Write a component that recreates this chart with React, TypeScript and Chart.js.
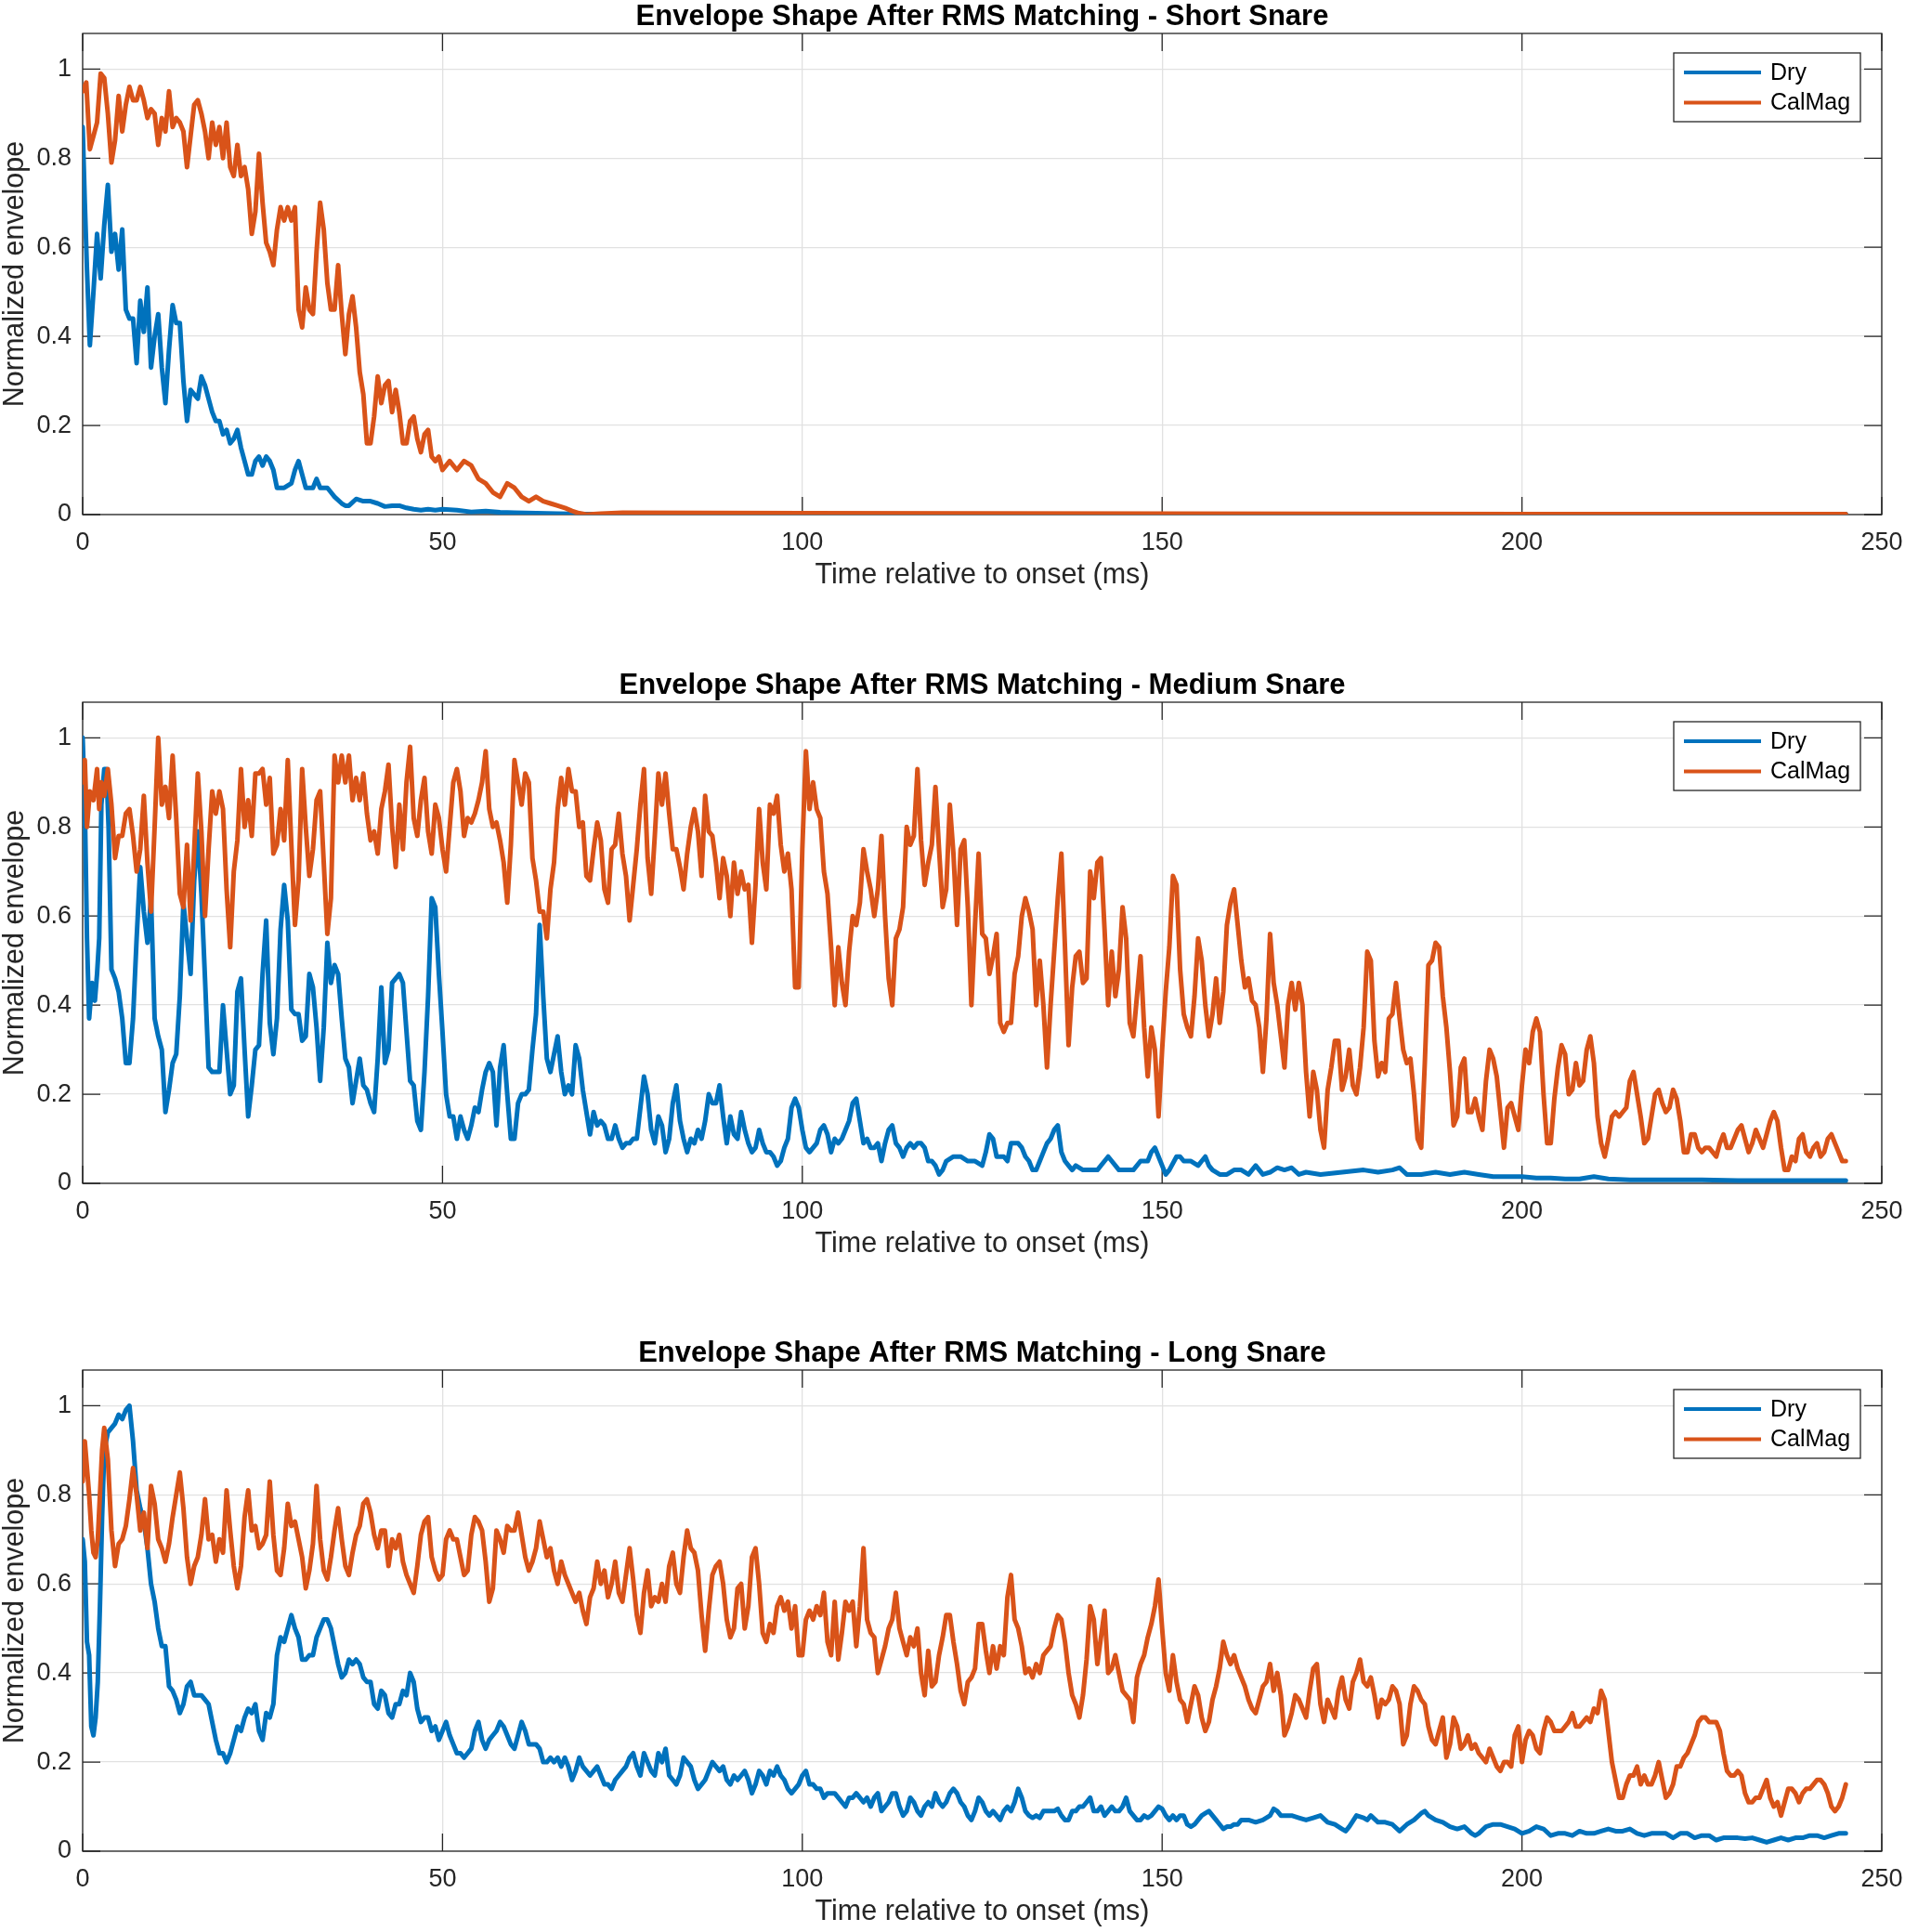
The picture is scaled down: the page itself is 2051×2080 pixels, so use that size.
import React, { useEffect, useRef } from 'react';
import { Chart, registerables } from 'chart.js';

Chart.register(...registerables);

// ---------------- data ----------------
const SERIES_LABELS = ['Dry', 'CalMag'];
const SERIES_COLORS = ['#0072BD', '#D95319'];
const X_TICKS = [0, 50, 100, 150, 200, 250];
const Y_TICKS = [0, 0.2, 0.4, 0.6, 0.8, 1];
const X_LABEL = 'Time relative to onset (ms)';
const Y_LABEL = 'Normalized envelope';
const TITLES = [
  'Envelope Shape After RMS Matching - Short Snare',
  'Envelope Shape After RMS Matching - Medium Snare',
  'Envelope Shape After RMS Matching - Long Snare',
];

type P = [number, number][];

const shortDry: P = [[0,0.87],[0.3,0.7],[0.6,0.55],[1,0.38],[1.5,0.5],[2,0.63],[2.5,0.53],[3,0.65],[3.5,0.74],[4,0.59],[4.5,0.63],[5,0.55],[5.5,0.64],[6,0.46],[6.5,0.44],[7,0.44],[7.5,0.34],[8,0.48],[8.5,0.41],[9,0.51],[9.5,0.33],[10,0.4],[10.5,0.45],[11,0.33],[11.5,0.25],[12,0.37],[12.5,0.47],[13,0.43],[13.5,0.43],[14,0.3],[14.5,0.21],[15,0.28],[15.5,0.27],[16,0.26],[16.5,0.31],[17,0.29],[17.5,0.26],[18,0.23],[18.5,0.21],[19,0.21],[19.5,0.18],[20,0.19],[20.5,0.16],[21,0.17],[21.5,0.19],[22,0.15],[22.5,0.12],[23,0.09],[23.5,0.09],[24,0.12],[24.5,0.13],[25,0.11],[25.5,0.13],[26,0.12],[26.5,0.1],[27,0.06],[28,0.06],[29,0.07],[29.5,0.1],[30,0.12],[30.5,0.09],[31,0.06],[32,0.06],[32.5,0.08],[33,0.06],[34,0.06],[34.5,0.05],[35,0.04],[36,0.025],[36.5,0.02],[37,0.02],[38,0.035],[39,0.03],[40,0.03],[41,0.025],[42,0.018],[43,0.02],[44,0.02],[45,0.015],[46,0.012],[47,0.01],[48,0.012],[49,0.01],[50,0.012],[52,0.01],[54,0.006],[56,0.008],[58,0.005],[60,0.004],[63,0.003],[66,0.002],[70,0.001],[100,0.001],[150,0.001],[200,0.001],[245,0.001]];

const shortCal: P = [[0,0.95],[0.5,0.97],[1,0.82],[1.5,0.85],[2,0.88],[2.5,0.99],[3,0.98],[3.5,0.9],[4,0.79],[4.5,0.84],[5,0.94],[5.5,0.86],[6,0.92],[6.5,0.96],[7,0.93],[7.5,0.93],[8,0.96],[8.5,0.93],[9,0.89],[9.5,0.91],[10,0.9],[10.5,0.83],[11,0.89],[11.5,0.86],[12,0.95],[12.5,0.87],[13,0.89],[13.5,0.88],[14,0.86],[14.5,0.78],[15,0.85],[15.5,0.92],[16,0.93],[16.5,0.9],[17,0.86],[17.5,0.8],[18,0.88],[18.5,0.83],[19,0.87],[19.5,0.8],[20,0.88],[20.5,0.78],[21,0.76],[21.5,0.83],[22,0.76],[22.5,0.78],[23,0.73],[23.5,0.63],[24,0.68],[24.5,0.81],[25,0.7],[25.5,0.61],[26,0.59],[26.5,0.56],[27,0.64],[27.5,0.69],[28,0.66],[28.5,0.69],[29,0.66],[29.5,0.69],[30,0.46],[30.5,0.42],[31,0.51],[31.5,0.46],[32,0.45],[32.5,0.59],[33,0.7],[33.5,0.64],[34,0.52],[34.5,0.46],[35,0.46],[35.5,0.56],[36,0.45],[36.5,0.36],[37,0.45],[37.5,0.49],[38,0.42],[38.5,0.32],[39,0.27],[39.5,0.16],[40,0.16],[40.5,0.22],[41,0.31],[41.5,0.25],[42,0.29],[42.5,0.3],[43,0.23],[43.5,0.28],[44,0.23],[44.5,0.16],[45,0.16],[45.5,0.21],[46,0.22],[46.5,0.17],[47,0.14],[47.5,0.18],[48,0.19],[48.5,0.13],[49,0.12],[49.5,0.13],[50,0.1],[51,0.12],[52,0.1],[53,0.12],[54,0.11],[55,0.08],[56,0.07],[57,0.05],[58,0.04],[59,0.07],[60,0.06],[61,0.04],[62,0.03],[63,0.04],[64,0.03],[65,0.025],[66,0.02],[67,0.015],[68,0.008],[69,0.003],[70,0],[72,0.002],[75,0.004],[100,0.003],[150,0.002],[200,0.001],[245,0.001]];

const mediumDry: P = [[0,1],[0.3,0.85],[0.6,0.55],[0.9,0.37],[1.3,0.45],[1.7,0.41],[2,0.47],[2.3,0.55],[2.6,0.85],[3,0.93],[3.3,0.93],[3.6,0.8],[4,0.48],[4.5,0.46],[5,0.43],[5.5,0.37],[6,0.27],[6.5,0.27],[7,0.37],[7.5,0.55],[8,0.71],[8.5,0.61],[9,0.54],[9.5,0.64],[10,0.37],[10.5,0.33],[11,0.3],[11.5,0.16],[12,0.21],[12.5,0.27],[13,0.29],[13.5,0.42],[14,0.63],[14.5,0.55],[15,0.47],[15.5,0.68],[16,0.79],[16.5,0.65],[17,0.46],[17.5,0.26],[18,0.25],[18.5,0.25],[19,0.25],[19.5,0.4],[20,0.3],[20.5,0.2],[21,0.22],[21.5,0.43],[22,0.46],[22.5,0.3],[23,0.15],[23.5,0.22],[24,0.3],[24.5,0.31],[25,0.47],[25.5,0.59],[26,0.36],[26.5,0.29],[27,0.37],[27.5,0.57],[28,0.67],[28.5,0.59],[29,0.39],[29.5,0.38],[30,0.38],[30.5,0.32],[31,0.33],[31.5,0.47],[32,0.44],[32.5,0.35],[33,0.23],[33.5,0.35],[34,0.54],[34.5,0.45],[35,0.49],[35.5,0.47],[36,0.37],[36.5,0.28],[37,0.26],[37.5,0.18],[38,0.23],[38.5,0.28],[39,0.22],[39.5,0.21],[40,0.18],[40.5,0.16],[41,0.28],[41.5,0.44],[42,0.27],[42.5,0.3],[43,0.45],[43.5,0.46],[44,0.47],[44.5,0.45],[45,0.34],[45.5,0.23],[46,0.22],[46.5,0.14],[47,0.12],[47.5,0.25],[48,0.42],[48.5,0.64],[49,0.62],[49.5,0.47],[50,0.34],[50.5,0.2],[51,0.15],[51.5,0.15],[52,0.1],[52.5,0.15],[53,0.12],[53.5,0.1],[54,0.13],[54.5,0.17],[55,0.16],[55.5,0.21],[56,0.25],[56.5,0.27],[57,0.25],[57.5,0.13],[58,0.26],[58.5,0.31],[59,0.2],[59.5,0.1],[60,0.1],[60.5,0.18],[61,0.2],[61.5,0.2],[62,0.21],[62.5,0.3],[63,0.38],[63.5,0.58],[64,0.42],[64.5,0.28],[65,0.25],[65.5,0.29],[66,0.33],[66.5,0.25],[67,0.2],[67.5,0.22],[68,0.2],[68.5,0.31],[69,0.28],[69.5,0.21],[70,0.16],[70.5,0.11],[71,0.16],[71.5,0.13],[72,0.14],[72.5,0.13],[73,0.1],[73.5,0.1],[74,0.13],[74.5,0.1],[75,0.08],[75.5,0.09],[76,0.09],[76.5,0.1],[77,0.1],[77.5,0.17],[78,0.24],[78.5,0.2],[79,0.12],[79.5,0.09],[80,0.15],[80.5,0.13],[81,0.07],[81.5,0.1],[82,0.18],[82.5,0.22],[83,0.14],[83.5,0.1],[84,0.07],[84.5,0.1],[85,0.09],[85.5,0.12],[86,0.1],[86.5,0.14],[87,0.2],[87.5,0.18],[88,0.18],[88.5,0.22],[89,0.15],[89.5,0.09],[90,0.15],[90.5,0.11],[91,0.1],[91.5,0.16],[92,0.12],[92.5,0.09],[93,0.07],[93.5,0.08],[94,0.12],[94.5,0.09],[95,0.07],[95.5,0.07],[96,0.06],[96.5,0.04],[97,0.05],[97.5,0.08],[98,0.1],[98.5,0.17],[99,0.19],[99.5,0.17],[100,0.12],[100.5,0.08],[101,0.07],[101.5,0.08],[102,0.09],[102.5,0.12],[103,0.13],[103.5,0.11],[104,0.07],[104.5,0.1],[105,0.09],[105.5,0.1],[106,0.12],[106.5,0.14],[107,0.18],[107.5,0.19],[108,0.14],[108.5,0.09],[109,0.1],[109.5,0.08],[110,0.08],[110.5,0.09],[111,0.05],[111.5,0.09],[112,0.12],[112.5,0.13],[113,0.09],[113.5,0.08],[114,0.06],[114.5,0.08],[115,0.09],[115.5,0.08],[116,0.09],[116.5,0.09],[117,0.08],[117.5,0.05],[118,0.05],[118.5,0.04],[119,0.02],[119.5,0.03],[120,0.05],[121,0.06],[122,0.06],[123,0.05],[124,0.05],[125,0.04],[125.5,0.07],[126,0.11],[126.5,0.1],[127,0.06],[128,0.06],[128.5,0.05],[129,0.09],[129.5,0.09],[130,0.09],[130.5,0.08],[131,0.06],[131.5,0.05],[132,0.03],[132.5,0.03],[133,0.05],[133.5,0.07],[134,0.09],[134.5,0.1],[135,0.12],[135.5,0.13],[136,0.07],[136.5,0.05],[137,0.04],[137.5,0.03],[138,0.04],[139,0.03],[140,0.03],[141,0.03],[142,0.05],[142.5,0.06],[143,0.05],[144,0.03],[145,0.03],[146,0.03],[147,0.05],[148,0.05],[148.5,0.07],[149,0.08],[149.5,0.06],[150,0.04],[150.5,0.02],[151,0.03],[152,0.06],[152.5,0.06],[153,0.05],[154,0.05],[155,0.04],[155.5,0.05],[156,0.06],[156.5,0.04],[157,0.03],[158,0.02],[159,0.02],[160,0.03],[161,0.03],[162,0.02],[163,0.04],[164,0.02],[165,0.025],[166,0.035],[167,0.03],[168,0.035],[169,0.02],[170,0.025],[172,0.02],[175,0.025],[178,0.03],[180,0.025],[182,0.03],[183,0.035],[184,0.02],[186,0.02],[188,0.025],[190,0.02],[192,0.025],[194,0.02],[196,0.015],[198,0.015],[200,0.015],[202,0.012],[204,0.012],[206,0.01],[208,0.01],[210,0.015],[212,0.01],[215,0.008],[220,0.008],[225,0.008],[230,0.006],[235,0.006],[240,0.006],[245,0.006]];

const mediumCal: P = [[0,0.9],[0.3,0.95],[0.6,0.8],[1,0.88],[1.5,0.86],[2,0.93],[2.3,0.84],[2.6,0.9],[3,0.87],[3.5,0.93],[4,0.85],[4.5,0.73],[5,0.78],[5.5,0.78],[6,0.83],[6.5,0.84],[7,0.78],[7.5,0.7],[8,0.75],[8.5,0.87],[9,0.72],[9.5,0.61],[10,0.8],[10.5,1],[11,0.85],[11.5,0.89],[12,0.82],[12.5,0.96],[13,0.82],[13.5,0.65],[14,0.62],[14.5,0.76],[15,0.59],[15.5,0.75],[16,0.92],[16.5,0.79],[17,0.6],[17.5,0.75],[18,0.88],[18.5,0.83],[19,0.88],[19.5,0.84],[20,0.66],[20.5,0.53],[21,0.7],[21.5,0.77],[22,0.93],[22.5,0.8],[23,0.86],[23.5,0.78],[24,0.92],[24.5,0.92],[25,0.93],[25.5,0.85],[26,0.91],[26.5,0.74],[27,0.76],[27.5,0.84],[28,0.77],[28.5,0.95],[29,0.76],[29.5,0.58],[30,0.68],[30.5,0.93],[31,0.8],[31.5,0.69],[32,0.75],[32.5,0.86],[33,0.88],[33.5,0.72],[34,0.56],[34.5,0.64],[35,0.96],[35.5,0.9],[36,0.96],[36.5,0.9],[37,0.96],[37.5,0.86],[38,0.91],[38.5,0.86],[39,0.92],[39.5,0.83],[40,0.77],[40.5,0.79],[41,0.74],[41.5,0.84],[42,0.88],[42.5,0.94],[43,0.8],[43.5,0.71],[44,0.85],[44.5,0.75],[45,0.9],[45.5,0.98],[46,0.82],[46.5,0.78],[47,0.86],[47.5,0.91],[48,0.79],[48.5,0.74],[49,0.85],[49.5,0.82],[50,0.75],[50.5,0.7],[51,0.8],[51.5,0.9],[52,0.93],[52.5,0.88],[53,0.78],[53.5,0.82],[54,0.81],[54.5,0.83],[55,0.86],[55.5,0.9],[56,0.97],[56.5,0.84],[57,0.8],[57.5,0.81],[58,0.77],[58.5,0.72],[59,0.63],[59.5,0.76],[60,0.95],[60.5,0.9],[61,0.85],[61.5,0.92],[62,0.9],[62.5,0.73],[63,0.68],[63.5,0.61],[64,0.61],[64.5,0.55],[65,0.66],[65.5,0.72],[66,0.84],[66.5,0.91],[67,0.85],[67.5,0.93],[68,0.88],[68.5,0.88],[69,0.8],[69.5,0.81],[70,0.69],[70.5,0.68],[71,0.75],[71.5,0.81],[72,0.77],[72.5,0.66],[73,0.63],[73.5,0.75],[74,0.76],[74.5,0.83],[75,0.74],[75.5,0.69],[76,0.59],[76.5,0.67],[77,0.75],[77.5,0.85],[78,0.93],[78.5,0.73],[79,0.65],[79.5,0.78],[80,0.92],[80.5,0.85],[81,0.92],[81.5,0.83],[82,0.75],[82.5,0.75],[83,0.71],[83.5,0.66],[84,0.74],[84.5,0.8],[85,0.84],[85.5,0.79],[86,0.69],[86.5,0.87],[87,0.79],[87.5,0.78],[88,0.72],[88.5,0.64],[89,0.73],[89.5,0.69],[90,0.6],[90.5,0.72],[91,0.65],[91.5,0.7],[92,0.66],[92.5,0.67],[93,0.54],[93.5,0.67],[94,0.84],[94.5,0.72],[95,0.66],[95.5,0.85],[96,0.83],[96.5,0.87],[97,0.76],[97.5,0.7],[98,0.74],[98.5,0.66],[99,0.44],[99.5,0.44],[100,0.75],[100.5,0.97],[101,0.84],[101.5,0.9],[102,0.84],[102.5,0.82],[103,0.7],[103.5,0.65],[104,0.53],[104.5,0.4],[105,0.53],[105.5,0.45],[106,0.4],[106.5,0.52],[107,0.6],[107.5,0.58],[108,0.63],[108.5,0.75],[109,0.7],[109.5,0.66],[110,0.6],[110.5,0.66],[111,0.78],[111.5,0.6],[112,0.46],[112.5,0.4],[113,0.55],[113.5,0.57],[114,0.62],[114.5,0.8],[115,0.76],[115.5,0.78],[116,0.93],[116.5,0.77],[117,0.67],[117.5,0.72],[118,0.76],[118.5,0.89],[119,0.75],[119.5,0.62],[120,0.66],[120.5,0.85],[121,0.74],[121.5,0.58],[122,0.75],[122.5,0.77],[123,0.62],[123.5,0.4],[124,0.58],[124.5,0.74],[125,0.56],[125.5,0.55],[126,0.47],[126.5,0.51],[127,0.56],[127.5,0.36],[128,0.34],[128.5,0.36],[129,0.36],[129.5,0.47],[130,0.51],[130.5,0.6],[131,0.64],[131.5,0.61],[132,0.57],[132.5,0.4],[133,0.5],[133.5,0.4],[134,0.26],[134.5,0.4],[135,0.52],[135.5,0.64],[136,0.74],[136.5,0.53],[137,0.31],[137.5,0.44],[138,0.51],[138.5,0.52],[139,0.45],[139.5,0.46],[140,0.7],[140.5,0.64],[141,0.72],[141.5,0.73],[142,0.57],[142.5,0.4],[143,0.52],[143.5,0.42],[144,0.48],[144.5,0.62],[145,0.55],[145.5,0.36],[146,0.33],[146.5,0.42],[147,0.51],[147.5,0.35],[148,0.24],[148.5,0.35],[149,0.3],[149.5,0.15],[150,0.3],[150.5,0.43],[151,0.53],[151.5,0.69],[152,0.67],[152.5,0.48],[153,0.38],[153.5,0.35],[154,0.33],[154.5,0.42],[155,0.55],[155.5,0.5],[156,0.4],[156.5,0.33],[157,0.38],[157.5,0.46],[158,0.36],[158.5,0.43],[159,0.58],[159.5,0.63],[160,0.66],[160.5,0.58],[161,0.5],[161.5,0.44],[162,0.46],[162.5,0.41],[163,0.4],[163.5,0.35],[164,0.25],[164.5,0.37],[165,0.56],[165.5,0.45],[166,0.4],[166.5,0.33],[167,0.26],[167.5,0.4],[168,0.45],[168.5,0.39],[169,0.45],[169.5,0.4],[170,0.25],[170.5,0.15],[171,0.25],[171.5,0.21],[172,0.12],[172.5,0.08],[173,0.21],[173.5,0.26],[174,0.32],[174.5,0.32],[175,0.21],[175.5,0.24],[176,0.3],[176.5,0.22],[177,0.2],[177.5,0.26],[178,0.35],[178.5,0.52],[179,0.5],[179.5,0.32],[180,0.24],[180.5,0.27],[181,0.25],[181.5,0.37],[182,0.38],[182.5,0.45],[183,0.37],[183.5,0.3],[184,0.27],[184.5,0.28],[185,0.2],[185.5,0.1],[186,0.08],[186.5,0.27],[187,0.49],[187.5,0.5],[188,0.54],[188.5,0.53],[189,0.42],[189.5,0.35],[190,0.25],[190.5,0.13],[191,0.15],[191.5,0.26],[192,0.28],[192.5,0.16],[193,0.16],[193.5,0.19],[194,0.15],[194.5,0.12],[195,0.23],[195.5,0.3],[196,0.28],[196.5,0.24],[197,0.16],[197.5,0.08],[198,0.17],[198.5,0.18],[199,0.15],[199.5,0.12],[200,0.22],[200.5,0.3],[201,0.27],[201.5,0.34],[202,0.37],[202.5,0.34],[203,0.2],[203.5,0.09],[204,0.09],[204.5,0.19],[205,0.26],[205.5,0.31],[206,0.29],[206.5,0.2],[207,0.21],[207.5,0.27],[208,0.22],[208.5,0.23],[209,0.3],[209.5,0.33],[210,0.27],[210.5,0.15],[211,0.09],[211.5,0.06],[212,0.1],[212.5,0.15],[213,0.16],[213.5,0.15],[214,0.16],[214.5,0.17],[215,0.23],[215.5,0.25],[216,0.2],[216.5,0.15],[217,0.09],[217.5,0.1],[218,0.15],[218.5,0.2],[219,0.21],[219.5,0.18],[220,0.16],[220.5,0.17],[221,0.21],[221.5,0.19],[222,0.14],[222.5,0.07],[223,0.07],[223.5,0.11],[224,0.11],[224.5,0.08],[225,0.07],[225.5,0.08],[226,0.08],[226.5,0.07],[227,0.06],[227.5,0.09],[228,0.11],[228.5,0.08],[229,0.08],[229.5,0.1],[230,0.12],[230.5,0.13],[231,0.1],[231.5,0.07],[232,0.09],[232.5,0.12],[233,0.1],[233.5,0.08],[234,0.11],[234.5,0.14],[235,0.16],[235.5,0.14],[236,0.08],[236.5,0.03],[237,0.03],[237.5,0.06],[238,0.05],[238.5,0.1],[239,0.11],[239.5,0.07],[240,0.06],[240.5,0.08],[241,0.09],[241.5,0.06],[242,0.07],[242.5,0.1],[243,0.11],[243.5,0.09],[244,0.07],[244.5,0.05],[245,0.05]];

const longDry: P = [[0,0.7],[0.3,0.65],[0.6,0.47],[0.9,0.44],[1.2,0.28],[1.5,0.26],[1.8,0.3],[2.1,0.38],[2.4,0.55],[2.7,0.75],[3,0.9],[3.5,0.94],[4,0.95],[4.5,0.96],[5,0.98],[5.5,0.97],[6,0.99],[6.5,1],[7,0.92],[7.5,0.81],[8,0.77],[8.5,0.74],[9,0.68],[9.5,0.6],[10,0.56],[10.5,0.5],[11,0.46],[11.5,0.46],[12,0.37],[12.5,0.36],[13,0.34],[13.5,0.31],[14,0.33],[14.5,0.37],[15,0.38],[15.5,0.35],[16,0.35],[16.5,0.35],[17,0.34],[17.5,0.33],[18,0.29],[18.5,0.25],[19,0.22],[19.5,0.22],[20,0.2],[20.5,0.22],[21,0.25],[21.5,0.28],[22,0.27],[22.5,0.3],[23,0.32],[23.5,0.31],[24,0.33],[24.5,0.27],[25,0.25],[25.5,0.31],[26,0.3],[26.5,0.33],[27,0.44],[27.5,0.48],[28,0.47],[28.5,0.5],[29,0.53],[29.5,0.5],[30,0.48],[30.5,0.43],[31,0.43],[31.5,0.44],[32,0.44],[32.5,0.48],[33,0.5],[33.5,0.52],[34,0.52],[34.5,0.5],[35,0.46],[35.5,0.42],[36,0.39],[36.5,0.4],[37,0.43],[37.5,0.42],[38,0.43],[38.5,0.42],[39,0.39],[39.5,0.38],[40,0.38],[40.5,0.33],[41,0.32],[41.5,0.36],[42,0.35],[42.5,0.31],[43,0.3],[43.5,0.33],[44,0.33],[44.5,0.36],[45,0.35],[45.5,0.4],[46,0.38],[46.5,0.32],[47,0.29],[47.5,0.3],[48,0.3],[48.5,0.27],[49,0.28],[49.5,0.25],[50,0.27],[50.5,0.29],[51,0.26],[51.5,0.24],[52,0.22],[52.5,0.22],[53,0.21],[53.5,0.22],[54,0.23],[54.5,0.27],[55,0.29],[55.5,0.25],[56,0.23],[56.5,0.25],[57,0.26],[57.5,0.27],[58,0.29],[58.5,0.28],[59,0.26],[59.5,0.24],[60,0.23],[60.5,0.26],[61,0.29],[61.5,0.27],[62,0.24],[62.5,0.24],[63,0.24],[63.5,0.23],[64,0.2],[64.5,0.2],[65,0.21],[65.5,0.2],[66,0.21],[66.5,0.19],[67,0.21],[67.5,0.19],[68,0.16],[68.5,0.18],[69,0.21],[69.5,0.19],[70,0.18],[70.5,0.17],[71,0.18],[71.5,0.19],[72,0.17],[72.5,0.15],[73,0.15],[73.5,0.14],[74,0.16],[74.5,0.17],[75,0.18],[75.5,0.19],[76,0.21],[76.5,0.22],[77,0.19],[77.5,0.17],[78,0.22],[78.5,0.2],[79,0.18],[79.5,0.17],[80,0.22],[80.5,0.2],[81,0.23],[81.5,0.17],[82,0.16],[82.5,0.15],[83,0.17],[83.5,0.21],[84,0.2],[84.5,0.19],[85,0.16],[85.5,0.14],[86,0.15],[86.5,0.16],[87,0.18],[87.5,0.2],[88,0.19],[88.5,0.18],[89,0.19],[89.5,0.16],[90,0.15],[90.5,0.17],[91,0.16],[91.5,0.17],[92,0.18],[92.5,0.16],[93,0.13],[93.5,0.15],[94,0.18],[94.5,0.17],[95,0.15],[95.5,0.18],[96,0.17],[96.5,0.19],[97,0.17],[97.5,0.16],[98,0.14],[98.5,0.13],[99,0.14],[99.5,0.15],[100,0.17],[100.5,0.18],[101,0.15],[101.5,0.15],[102,0.14],[102.5,0.14],[103,0.12],[103.5,0.13],[104,0.13],[104.5,0.13],[105,0.12],[105.5,0.11],[106,0.1],[106.5,0.12],[107,0.12],[107.5,0.13],[108,0.12],[108.5,0.11],[109,0.12],[109.5,0.1],[110,0.12],[110.5,0.13],[111,0.09],[111.5,0.1],[112,0.11],[112.5,0.13],[113,0.13],[113.5,0.1],[114,0.08],[114.5,0.09],[115,0.12],[115.5,0.11],[116,0.09],[116.5,0.08],[117,0.1],[117.5,0.11],[118,0.1],[118.5,0.13],[119,0.11],[119.5,0.1],[120,0.11],[120.5,0.13],[121,0.14],[121.5,0.13],[122,0.11],[122.5,0.1],[123,0.08],[123.5,0.07],[124,0.09],[124.5,0.12],[125,0.11],[125.5,0.09],[126,0.08],[126.5,0.09],[127,0.08],[127.5,0.07],[128,0.09],[128.5,0.1],[129,0.09],[129.5,0.11],[130,0.14],[130.5,0.12],[131,0.09],[131.5,0.08],[132,0.075],[132.5,0.08],[133,0.075],[133.5,0.09],[134,0.09],[134.5,0.09],[135,0.09],[135.5,0.095],[136,0.08],[136.5,0.07],[137,0.07],[137.5,0.09],[138,0.09],[138.5,0.1],[139,0.1],[139.5,0.11],[140,0.12],[140.5,0.09],[141,0.09],[141.5,0.1],[142,0.08],[142.5,0.09],[143,0.1],[143.5,0.09],[144,0.09],[144.5,0.1],[145,0.12],[145.5,0.09],[146,0.08],[146.5,0.07],[147,0.07],[147.5,0.08],[148,0.075],[148.5,0.08],[149,0.09],[149.5,0.1],[150,0.095],[150.5,0.08],[151,0.07],[151.5,0.08],[152,0.07],[152.5,0.08],[153,0.08],[153.5,0.06],[154,0.055],[154.5,0.06],[155,0.07],[155.5,0.08],[156,0.085],[156.5,0.09],[157,0.08],[157.5,0.07],[158,0.06],[158.5,0.05],[159,0.055],[159.5,0.055],[160,0.06],[160.5,0.06],[161,0.07],[162,0.07],[163,0.065],[164,0.07],[165,0.08],[165.5,0.095],[166,0.09],[166.5,0.08],[168,0.08],[169,0.075],[170,0.07],[171,0.075],[172,0.08],[173,0.065],[174,0.06],[175,0.05],[175.5,0.045],[176,0.055],[177,0.08],[178,0.075],[178.5,0.07],[179,0.08],[180,0.065],[181,0.065],[182,0.06],[183,0.045],[184,0.06],[185,0.07],[186,0.085],[186.5,0.09],[187,0.08],[188,0.07],[189,0.065],[190,0.055],[191,0.05],[192,0.055],[193,0.04],[193.5,0.035],[194,0.04],[195,0.055],[196,0.06],[197,0.06],[198,0.055],[199,0.05],[200,0.04],[201,0.045],[202,0.055],[203,0.05],[204,0.035],[205,0.04],[206,0.04],[207,0.035],[208,0.045],[209,0.04],[210,0.04],[211,0.045],[212,0.05],[213,0.045],[214,0.045],[215,0.05],[216,0.04],[217,0.035],[218,0.04],[219,0.04],[220,0.04],[221,0.03],[222,0.04],[223,0.04],[224,0.03],[225,0.035],[226,0.035],[227,0.025],[228,0.03],[229,0.03],[230,0.03],[231,0.028],[232,0.03],[233,0.025],[234,0.02],[235,0.025],[236,0.03],[237,0.025],[238,0.03],[239,0.03],[240,0.035],[241,0.035],[242,0.03],[243,0.035],[244,0.04],[245,0.04]];

const longCal: P = [[0,0.83],[0.3,0.92],[0.6,0.86],[0.9,0.8],[1.2,0.72],[1.5,0.67],[1.8,0.66],[2.1,0.7],[2.4,0.8],[2.7,0.9],[3,0.95],[3.5,0.88],[4,0.72],[4.5,0.64],[5,0.69],[5.5,0.7],[6,0.73],[6.5,0.79],[7,0.86],[7.5,0.8],[8,0.72],[8.5,0.76],[9,0.68],[9.5,0.82],[10,0.78],[10.5,0.7],[11,0.68],[11.5,0.65],[12,0.69],[12.5,0.75],[13,0.8],[13.5,0.85],[14,0.77],[14.5,0.66],[15,0.6],[15.5,0.64],[16,0.66],[16.5,0.71],[17,0.79],[17.5,0.7],[18,0.71],[18.5,0.65],[19,0.7],[19.5,0.67],[20,0.81],[20.5,0.72],[21,0.64],[21.5,0.59],[22,0.64],[22.5,0.75],[23,0.81],[23.5,0.72],[24,0.73],[24.5,0.68],[25,0.69],[25.5,0.71],[26,0.83],[26.5,0.71],[27,0.63],[27.5,0.62],[28,0.68],[28.5,0.78],[29,0.73],[29.5,0.74],[30,0.7],[30.5,0.66],[31,0.59],[31.5,0.63],[32,0.69],[32.5,0.82],[33,0.7],[33.5,0.63],[34,0.61],[34.5,0.66],[35,0.72],[35.5,0.77],[36,0.7],[36.5,0.64],[37,0.62],[37.5,0.67],[38,0.71],[38.5,0.73],[39,0.78],[39.5,0.79],[40,0.76],[40.5,0.71],[41,0.68],[41.5,0.72],[42,0.72],[42.5,0.64],[43,0.7],[43.5,0.68],[44,0.71],[44.5,0.65],[45,0.62],[45.5,0.6],[46,0.58],[46.5,0.64],[47,0.71],[47.5,0.74],[48,0.75],[48.5,0.66],[49,0.63],[49.5,0.61],[50,0.62],[50.5,0.7],[51,0.72],[51.5,0.7],[52,0.7],[52.5,0.66],[53,0.62],[53.5,0.63],[54,0.71],[54.5,0.75],[55,0.74],[55.5,0.72],[56,0.65],[56.5,0.56],[57,0.59],[57.5,0.72],[58,0.7],[58.5,0.67],[59,0.73],[59.5,0.72],[60,0.72],[60.5,0.76],[61,0.71],[61.5,0.66],[62,0.63],[62.5,0.65],[63,0.68],[63.5,0.74],[64,0.7],[64.5,0.66],[65,0.68],[65.5,0.63],[66,0.6],[66.5,0.65],[67,0.62],[67.5,0.6],[68,0.58],[68.5,0.56],[69,0.58],[69.5,0.54],[70,0.51],[70.5,0.57],[71,0.59],[71.5,0.65],[72,0.6],[72.5,0.63],[73,0.57],[73.5,0.6],[74,0.65],[74.5,0.58],[75,0.56],[75.5,0.62],[76,0.68],[76.5,0.61],[77,0.53],[77.5,0.49],[78,0.58],[78.5,0.63],[79,0.55],[79.5,0.57],[80,0.56],[80.5,0.6],[81,0.56],[81.5,0.64],[82,0.67],[82.5,0.6],[83,0.58],[83.5,0.66],[84,0.72],[84.5,0.68],[85,0.67],[85.5,0.63],[86,0.53],[86.5,0.45],[87,0.54],[87.5,0.62],[88,0.64],[88.5,0.65],[89,0.6],[89.5,0.52],[90,0.48],[90.5,0.5],[91,0.59],[91.5,0.6],[92,0.5],[92.5,0.55],[93,0.66],[93.5,0.68],[94,0.6],[94.5,0.49],[95,0.47],[95.5,0.51],[96,0.49],[96.5,0.55],[97,0.57],[97.5,0.54],[98,0.56],[98.5,0.5],[99,0.55],[99.5,0.44],[100,0.44],[100.5,0.52],[101,0.54],[101.5,0.52],[102,0.55],[102.5,0.53],[103,0.58],[103.5,0.47],[104,0.44],[104.5,0.56],[105,0.43],[105.5,0.49],[106,0.56],[106.5,0.54],[107,0.56],[107.5,0.46],[108,0.55],[108.5,0.68],[109,0.52],[109.5,0.49],[110,0.48],[110.5,0.4],[111,0.43],[111.5,0.46],[112,0.5],[112.5,0.52],[113,0.58],[113.5,0.5],[114,0.47],[114.5,0.44],[115,0.48],[115.5,0.46],[116,0.5],[116.5,0.4],[117,0.35],[117.5,0.45],[118,0.37],[118.5,0.38],[119,0.44],[119.5,0.48],[120,0.53],[120.5,0.53],[121,0.47],[121.5,0.42],[122,0.36],[122.5,0.33],[123,0.38],[123.5,0.39],[124,0.41],[124.5,0.51],[125,0.51],[125.5,0.45],[126,0.4],[126.5,0.46],[127,0.41],[127.5,0.46],[128,0.44],[128.5,0.57],[129,0.62],[129.5,0.52],[130,0.5],[130.5,0.46],[131,0.4],[131.5,0.41],[132,0.39],[132.5,0.42],[133,0.4],[133.5,0.44],[134,0.45],[134.5,0.46],[135,0.5],[135.5,0.53],[136,0.52],[136.5,0.47],[137,0.4],[137.5,0.35],[138,0.33],[138.5,0.3],[139,0.35],[139.5,0.43],[140,0.55],[140.5,0.52],[141,0.42],[141.5,0.48],[142,0.54],[142.5,0.4],[143,0.41],[143.5,0.44],[144,0.4],[144.5,0.36],[145,0.35],[145.5,0.34],[146,0.29],[146.5,0.39],[147,0.42],[147.5,0.44],[148,0.48],[148.5,0.51],[149,0.55],[149.5,0.61],[150,0.5],[150.5,0.4],[151,0.36],[151.5,0.44],[152,0.38],[152.5,0.34],[153,0.33],[153.5,0.29],[154,0.33],[154.5,0.37],[155,0.35],[155.5,0.3],[156,0.27],[156.5,0.29],[157,0.34],[157.5,0.37],[158,0.41],[158.5,0.47],[159,0.44],[159.5,0.42],[160,0.44],[160.5,0.41],[161,0.39],[161.5,0.37],[162,0.34],[162.5,0.32],[163,0.31],[163.5,0.34],[164,0.37],[164.5,0.38],[165,0.42],[165.5,0.36],[166,0.4],[166.5,0.35],[167,0.26],[167.5,0.28],[168,0.31],[168.5,0.35],[169,0.34],[169.5,0.32],[170,0.3],[170.5,0.36],[171,0.41],[171.5,0.42],[172,0.33],[172.5,0.29],[173,0.34],[173.5,0.32],[174,0.3],[174.5,0.36],[175,0.39],[175.5,0.34],[176,0.32],[176.5,0.38],[177,0.4],[177.5,0.43],[178,0.38],[178.5,0.37],[179,0.39],[179.5,0.35],[180,0.3],[180.5,0.34],[181,0.33],[181.5,0.34],[182,0.37],[182.5,0.36],[183,0.33],[183.5,0.24],[184,0.26],[184.5,0.33],[185,0.37],[185.5,0.36],[186,0.34],[186.5,0.33],[187,0.28],[187.5,0.25],[188,0.24],[188.5,0.27],[189,0.3],[189.5,0.21],[190,0.24],[190.5,0.3],[191,0.28],[191.5,0.23],[192,0.24],[192.5,0.26],[193,0.23],[193.5,0.24],[194,0.22],[194.5,0.21],[195,0.2],[195.5,0.23],[196,0.21],[196.5,0.19],[197,0.18],[197.5,0.2],[198,0.2],[198.5,0.19],[199,0.26],[199.5,0.28],[200,0.2],[200.5,0.25],[201,0.27],[201.5,0.26],[202,0.23],[202.5,0.22],[203,0.27],[203.5,0.3],[204,0.29],[204.5,0.27],[205,0.27],[205.5,0.27],[206,0.28],[206.5,0.29],[207,0.31],[207.5,0.28],[208,0.28],[208.5,0.29],[209,0.3],[209.5,0.29],[210,0.32],[210.5,0.31],[211,0.36],[211.5,0.34],[212,0.27],[212.5,0.2],[213,0.16],[213.5,0.12],[214,0.12],[214.5,0.15],[215,0.17],[215.5,0.17],[216,0.19],[216.5,0.15],[217,0.17],[217.5,0.15],[218,0.15],[218.5,0.17],[219,0.2],[219.5,0.16],[220,0.12],[220.5,0.13],[221,0.15],[221.5,0.19],[222,0.19],[222.5,0.21],[223,0.22],[223.5,0.24],[224,0.26],[224.5,0.29],[225,0.3],[225.5,0.3],[226,0.29],[226.5,0.29],[227,0.29],[227.5,0.27],[228,0.22],[228.5,0.18],[229,0.17],[229.5,0.17],[230,0.18],[230.5,0.17],[231,0.13],[231.5,0.11],[232,0.11],[232.5,0.12],[233,0.12],[233.5,0.14],[234,0.16],[234.5,0.12],[235,0.1],[235.5,0.11],[236,0.08],[236.5,0.11],[237,0.14],[237.5,0.14],[238,0.13],[238.5,0.11],[239,0.13],[239.5,0.14],[240,0.14],[240.5,0.15],[241,0.16],[241.5,0.16],[242,0.15],[242.5,0.13],[243,0.1],[243.5,0.09],[244,0.1],[244.5,0.12],[245,0.15]];

const PANELS: { title: string; dry: P; cal: P }[] = [
  { title: TITLES[0], dry: shortDry, cal: shortCal },
  { title: TITLES[1], dry: mediumDry, cal: mediumCal },
  { title: TITLES[2], dry: longDry, cal: longCal },
];

// ---------------- layout / style ----------------
const FONT = '"Liberation Sans", Arial, Helvetica, sans-serif';
const CANVAS_W = 2051;
const CANVAS_H = 720;
const PANEL_TOPS = [0, 720, 1439];
const AXIS_COLOR = '#262626';
const GRID_COLOR = '#e1e1e1';
const TICK_LEN = 19;
const LINE_W = 5;

const framePlugin = {
  id: 'matlabFrame',
  beforeDatasetsDraw(chart: any) {
    const { ctx, chartArea: a, scales } = chart;
    ctx.save();
    ctx.strokeStyle = AXIS_COLOR;
    ctx.lineWidth = 1.3;
    ctx.beginPath();
    X_TICKS.forEach((v) => {
      const x = scales.x.getPixelForValue(v);
      ctx.moveTo(x, a.bottom);
      ctx.lineTo(x, a.bottom - TICK_LEN);
      ctx.moveTo(x, a.top);
      ctx.lineTo(x, a.top + TICK_LEN);
    });
    Y_TICKS.forEach((v) => {
      const y = scales.y.getPixelForValue(v);
      ctx.moveTo(a.left, y);
      ctx.lineTo(a.left + TICK_LEN, y);
      ctx.moveTo(a.right, y);
      ctx.lineTo(a.right - TICK_LEN, y);
    });
    ctx.stroke();
    ctx.strokeRect(a.left, a.top, a.right - a.left, a.bottom - a.top);
    ctx.restore();
  },
  afterDatasetsDraw(chart: any) {
    const { ctx, chartArea: a } = chart;
    const boxW = 201;
    const boxH = 74;
    const bx = a.right - 23 - boxW;
    const by = a.top + 21;
    ctx.save();
    ctx.fillStyle = '#ffffff';
    ctx.fillRect(bx, by, boxW, boxH);
    ctx.strokeStyle = AXIS_COLOR;
    ctx.lineWidth = 1.3;
    ctx.strokeRect(bx, by, boxW, boxH);
    ctx.font = `25px ${FONT}`;
    ctx.textBaseline = 'middle';
    ctx.textAlign = 'left';
    chart.data.datasets.forEach((ds: any, i: number) => {
      const y = by + 21 + i * 32.5;
      ctx.strokeStyle = ds.borderColor;
      ctx.lineWidth = 4;
      ctx.beginPath();
      ctx.moveTo(bx + 11, y);
      ctx.lineTo(bx + 94, y);
      ctx.stroke();
      ctx.fillStyle = '#000000';
      ctx.fillText(ds.label, bx + 104, y + 1);
    });
    ctx.restore();
  },
};

function Panel({ title, dry, cal, top }: { title: string; dry: P; cal: P; top: number }) {
  const ref = useRef<HTMLCanvasElement | null>(null);
  useEffect(() => {
    if (!ref.current) return;
    const mk = (i: number, pts: P, order: number) => ({
      label: SERIES_LABELS[i],
      data: pts.map(([x, y]) => ({ x, y })),
      borderColor: SERIES_COLORS[i],
      backgroundColor: SERIES_COLORS[i],
      borderWidth: LINE_W,
      pointRadius: 0,
      tension: 0,
      borderJoinStyle: 'round',
      borderCapStyle: 'round',
      order,
    });
    const chart = new Chart(ref.current, {
      type: 'line',
      data: { datasets: [mk(0, dry, 1), mk(1, cal, 0)] },
      options: {
        responsive: false,
        animation: false,
        devicePixelRatio: 1,
        layout: { padding: { left: 0, right: 25, top: 0, bottom: 82 } },
        plugins: {
          legend: { display: false },
          tooltip: { enabled: false },
          title: {
            display: true,
            text: title,
            fullSize: false,
            color: '#000000',
            padding: 0,
            font: { family: FONT, size: 31, weight: 'bold', lineHeight: 36 / 31 },
          },
        },
        scales: {
          x: {
            type: 'linear',
            min: 0,
            max: 250,
            afterBuildTicks: (s: any) => {
              s.ticks = X_TICKS.map((v) => ({ value: v }));
            },
            afterFit: (s: any) => {
              s.height = 84;
              s.paddingLeft = 0;
              s.paddingRight = 0;
            },
            grid: { color: GRID_COLOR, lineWidth: 1.3, drawTicks: false },
            border: { display: false },
            ticks: {
              color: AXIS_COLOR,
              font: { family: FONT, size: 27 },
              padding: 14,
              maxRotation: 0,
              autoSkip: false,
              callback: (v: any) => String(v),
            },
            title: {
              display: true,
              text: X_LABEL,
              color: AXIS_COLOR,
              padding: 0,
              font: { family: FONT, size: 30.5, lineHeight: 36 / 30.5 },
            },
          },
          y: {
            type: 'linear',
            min: 0,
            max: 1.08,
            afterBuildTicks: (s: any) => {
              s.ticks = Y_TICKS.map((v) => ({ value: v }));
            },
            afterFit: (s: any) => {
              s.width = 89;
              s.paddingTop = 0;
              s.paddingBottom = 0;
            },
            grid: { color: GRID_COLOR, lineWidth: 1.3, drawTicks: false },
            border: { display: false },
            ticks: {
              color: AXIS_COLOR,
              font: { family: FONT, size: 27 },
              padding: 12,
              autoSkip: false,
              callback: (v: any) => String(Math.round(Number(v) * 10) / 10),
            },
            title: {
              display: true,
              text: Y_LABEL,
              color: AXIS_COLOR,
              padding: 0,
              font: { family: FONT, size: 30.5, lineHeight: 33 / 30.5 },
            },
          },
        },
      },
      plugins: [framePlugin],
    } as any);
    return () => chart.destroy();
  }, [title, dry, cal]);
  return (
    <canvas
      ref={ref}
      width={CANVAS_W}
      height={CANVAS_H}
      style={{ position: 'absolute', left: 0, top, width: CANVAS_W, height: CANVAS_H, display: 'block' }}
    />
  );
}

export default function App() {
  useEffect(() => {
    document.body.style.margin = '0';
    document.body.style.background = '#ffffff';
  }, []);
  return (
    <div
      style={{
        position: 'absolute',
        left: 0,
        top: 0,
        width: CANVAS_W,
        height: 2080,
        overflow: 'hidden',
        background: '#ffffff',
      }}
    >
      {PANELS.map((p, i) => (
        <Panel key={i} title={p.title} dry={p.dry} cal={p.cal} top={PANEL_TOPS[i]} />
      ))}
    </div>
  );
}
